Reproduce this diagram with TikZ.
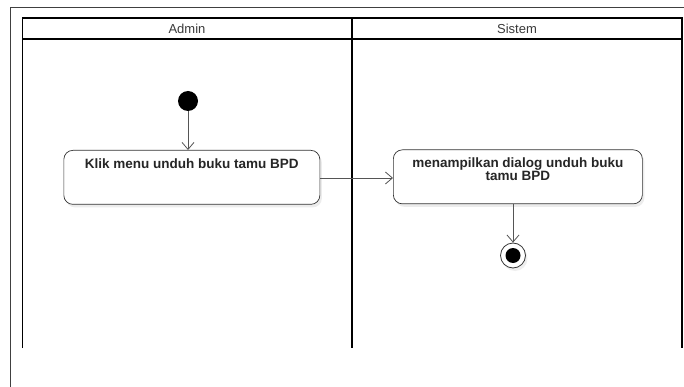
\documentclass[tikz,border=0pt]{standalone}
\usepackage{fontspec}
\setmainfont{Liberation Sans}
\usetikzlibrary{arrows.meta,shadows}
\definecolor{flowgray}{HTML}{555555}
\definecolor{headtext}{HTML}{3A3A3A}
\tikzset{
  lane/.style={line width=1.9pt,draw=black},
  frame/.style={line width=0.9pt,draw=black!75},
  action/.style={draw=black!80,line width=0.7pt,rounded corners=9pt,fill=white,
    drop shadow={shadow xshift=2pt,shadow yshift=-3pt,fill=black!12,opacity=0.6},
    minimum width=256pt,minimum height=54pt,anchor=north west,inner sep=0pt},
  acttext/.style={font=\fontsize{13.5}{12.5}\selectfont\bfseries,text=black!85,align=center},
  lanehead/.style={font=\fontsize{13}{15}\selectfont,text=headtext},
  flow/.style={draw=flowgray,line width=0.8pt,-{Straight Barb[length=7pt,width=12pt,line width=0.8pt]}},
  startdot/.style={circle,fill=black,minimum size=20pt,inner sep=0pt},
  enddot/.style={circle,draw=black!80,line width=0.8pt,fill=white,minimum size=25pt,inner sep=0pt,
    drop shadow={shadow xshift=2pt,shadow yshift=-3pt,fill=black!10,opacity=0.6}}
}
\begin{document}
\begin{tikzpicture}[x=1pt,y=-1pt]
\useasboundingbox (0,0) rectangle (684,387);
\fill[white] (0,0) rectangle (684,387);
% outer frame
\draw[frame] (10.5,400) -- (10.5,7) -- (700,7);
% swimlanes
\draw[lane] (22.5,348) -- (22.5,18) -- (682,18) -- (682,348);
\draw[lane] (22.5,39) -- (682,39);
\draw[lane] (352,18) -- (352,348);
\node[lanehead] (admin) at (187,29) {Admin};
\node[lanehead] (sistem) at (517,29) {Sistem};
% actions
\node[startdot] (start) at (188,101) {};
\node[action,minimum width=256pt] (klik) at (63.5,150) {};
\node[acttext,anchor=north] (kliktext) at (klik.north) [yshift=-5pt] {Klik menu unduh buku tamu BPD};
\node[action,minimum width=249pt] (dialog) at (393,149.5) {};
\node[acttext,anchor=north] (dialogtext) at (dialog.north) [yshift=-5pt] {menampilkan dialog unduh buku\\tamu BPD};
\node[enddot] (final) at (513,255.5) {};
\node[circle,fill=black,minimum size=15pt,inner sep=0pt] (finalcore) at (final.center) {};
% flows
\draw[flow] (start.south) -- (start.south |- klik.north);
\draw[flow] (klik.east |- 0,178) -- (dialog.west |- 0,178);
\draw[flow] (final.north |- dialog.south) -- (final.north);
\end{tikzpicture}
\end{document}
